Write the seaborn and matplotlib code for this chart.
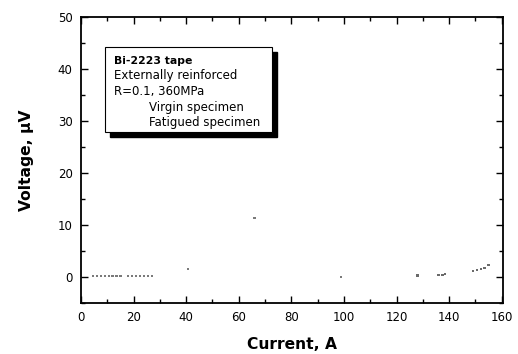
import matplotlib
matplotlib.use("Agg")
import matplotlib.pyplot as plt
from matplotlib.patches import Rectangle
from matplotlib.ticker import MultipleLocator
import seaborn as sns
import pandas as pd

# Data read from the (faint) scanned picture
virgin_current = [4.5, 6, 7.5, 9, 10.5, 12, 13.5, 15, 18, 19.5, 21, 22.5, 24, 25.5, 27, 40.7, 66, 99]
virgin_voltage = [0.2, 0.2, 0.2, 0.2, 0.2, 0.2, 0.2, 0.2, 0.2, 0.2, 0.2, 0.2, 0.2, 0.2, 0.2, 1.5, 11.3, 0.0]
fatigued_current = [128, 136, 137.5, 138.5, 149, 150.5, 152, 153.5, 155]
fatigued_voltage = [0.3, 0.4, 0.45, 0.5, 1.1, 1.3, 1.5, 1.8, 2.3]

legend_title = "Bi-2223 tape"
legend_lines = ["Externally reinforced", "R=0.1, 360MPa"]
series_names = ["Virgin specimen", "Fatigued specimen"]

sns.set_style("white")
plt.rcParams['font.family'] = ['DejaVu Sans']
plt.rcParams['text.color'] = 'black'
plt.rcParams['axes.labelcolor'] = 'black'
plt.rcParams['xtick.color'] = 'black'
plt.rcParams['ytick.color'] = 'black'

df = pd.concat([
    pd.DataFrame({"Current": virgin_current, "Voltage": virgin_voltage, "Specimen": series_names[0]}),
    pd.DataFrame({"Current": fatigued_current, "Voltage": fatigued_voltage, "Specimen": series_names[1]}),
])

fig = plt.figure(figsize=(5.18, 3.54), dpi=100)
ax = fig.add_axes([81/518, 1 - 303/354, (503-81)/518, (303-17)/354])

sns.scatterplot(data=df, x="Current", y="Voltage", hue="Specimen",
                palette=["#7a7a7a", "#6a6a6a"], s=2.5, marker="s", linewidth=0,
                ax=ax, legend=False)

ax.set_xlim(0, 160.5)
ax.set_ylim(-5, 50)
ax.xaxis.set_major_locator(MultipleLocator(20))
ax.xaxis.set_minor_locator(MultipleLocator(10))
ax.yaxis.set_major_locator(MultipleLocator(10))
ax.yaxis.set_minor_locator(MultipleLocator(5))
ax.tick_params(which='both', direction='in', top=True, right=True, bottom=True, left=True,
               width=1.0, color='black', labelcolor='black')
ax.tick_params(which='major', length=5, labelsize=8.5, pad=6)
ax.tick_params(which='minor', length=3)
for sp in ax.spines.values():
    sp.set_linewidth(1.3)
    sp.set_color('black')

ax.set_xlabel("Current, A", fontsize=11.2, fontweight='bold', labelpad=9, color='black')
ax.set_ylabel("Voltage, \u03bcV", fontsize=11.2, fontweight='bold', labelpad=17, color='black')

# Legend-like box with shadow (in pixel -> axes coords)
def px2ax(px, py):
    return ((px - 81) / (503 - 81), (303 - py) / (303 - 17))

x0, y0 = px2ax(105, 132)
x1, y1 = px2ax(272, 47)
sx0, sy0 = px2ax(110, 137)
ax.add_patch(Rectangle((sx0, sy0), x1 - x0, y1 - y0, transform=ax.transAxes,
                       facecolor='black', edgecolor='black', zorder=4))
ax.add_patch(Rectangle((x0, y0), x1 - x0, y1 - y0, transform=ax.transAxes,
                       facecolor='white', edgecolor='black', linewidth=0.8, zorder=5))

ys = [60.7, 75.5, 91.5, 107.5, 122.5]
tx, _ = px2ax(114, 0)
tx2, _ = px2ax(149, 0)
texts = [legend_title] + legend_lines + series_names
for i, (t, ypx) in enumerate(zip(texts, ys)):
    _, yy = px2ax(0, ypx)
    ax.text(tx if i < 3 else tx2, yy, t, transform=ax.transAxes,
            fontsize=7.8 if i == 0 else 8.5, color='black',
            fontweight='bold' if i == 0 else 'normal', va='center', ha='left', zorder=6)

fig.savefig("out.png", dpi=100)
